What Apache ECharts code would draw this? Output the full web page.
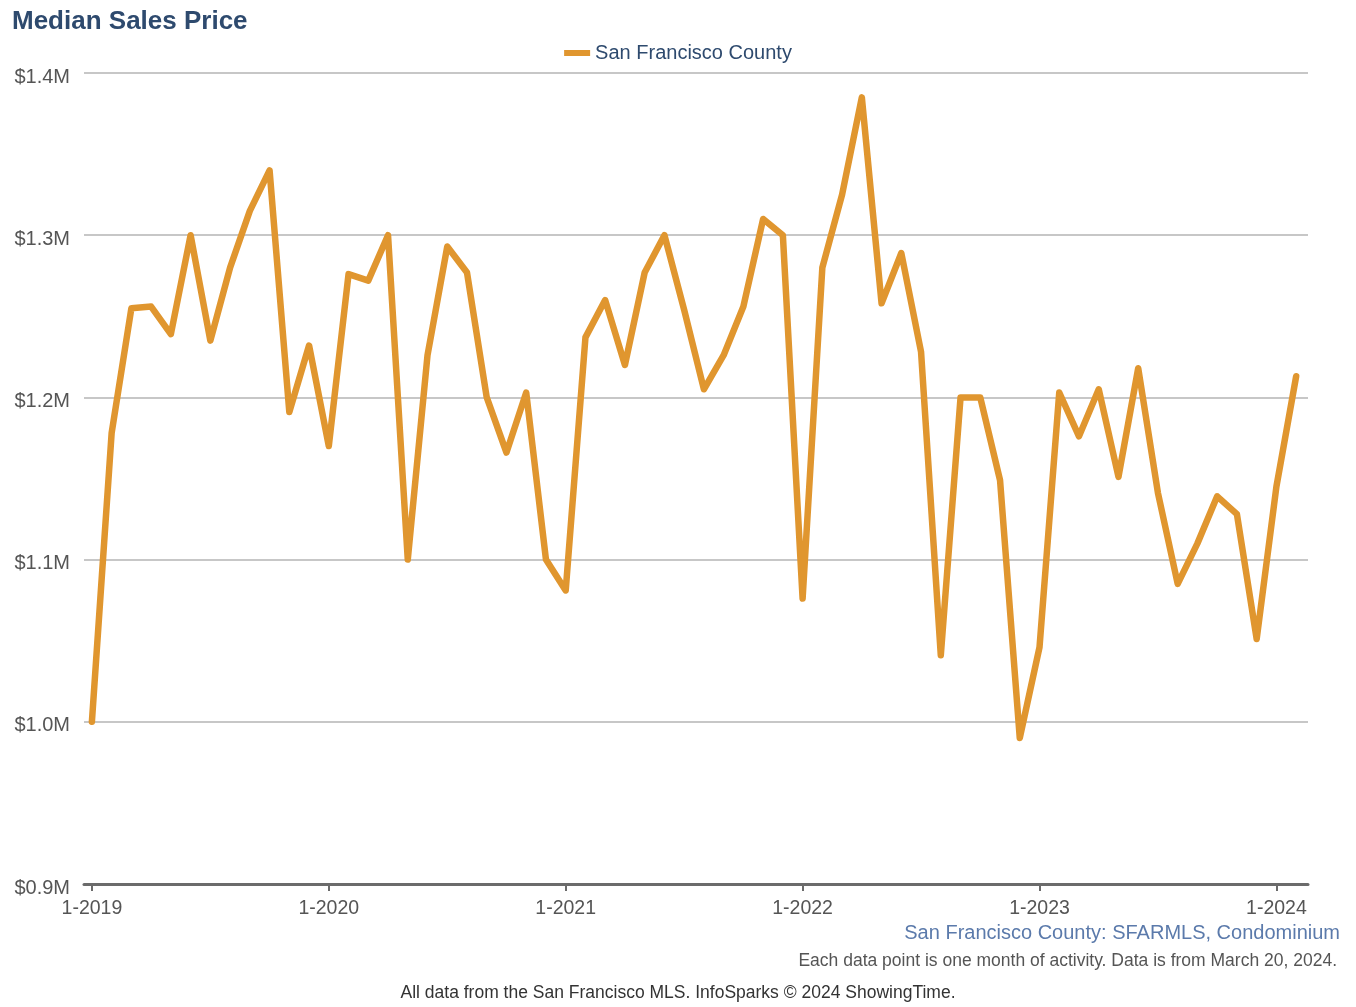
<!DOCTYPE html>
<html>
<head>
<meta charset="utf-8">
<script src="https://cdn.jsdelivr.net/npm/echarts@6/dist/echarts.min.js"></script>
<style>
html,body{margin:0;padding:0;background:#fff;}
#chart{width:1356px;height:1007px;}
</style>
</head>
<body>
<div id="chart"></div>
<script>
// Months 1-2019 .. 2-2024
const months = [
 '1-2019','2-2019','3-2019','4-2019','5-2019','6-2019','7-2019','8-2019','9-2019','10-2019','11-2019','12-2019',
 '1-2020','2-2020','3-2020','4-2020','5-2020','6-2020','7-2020','8-2020','9-2020','10-2020','11-2020','12-2020',
 '1-2021','2-2021','3-2021','4-2021','5-2021','6-2021','7-2021','8-2021','9-2021','10-2021','11-2021','12-2021',
 '1-2022','2-2022','3-2022','4-2022','5-2022','6-2022','7-2022','8-2022','9-2022','10-2022','11-2022','12-2022',
 '1-2023','2-2023','3-2023','4-2023','5-2023','6-2023','7-2023','8-2023','9-2023','10-2023','11-2023','12-2023',
 '1-2024','2-2024'
];
// Median sales price, in $K
const prices = [
 1000,1178,1255,1256,1239,1300,1235,1280,1315,1340,1191,1232,
 1170,1276,1272,1300,1100,1226,1293,1277,1200,1166,1203,1100,
 1081,1237,1260,1220,1277,1300,1254,1205,1226,1256,1310,1300,
 1076,1280,1325,1385,1258,1289,1228,1041,1200,1200,1149,990,
 1046,1203,1176,1205,1151,1218,1141,1085,1110,1139,1128,1051,
 1145,1213
];
const tickLabels = ['1-2019','1-2020','1-2021','1-2022','1-2023','1-2024'];
const yTicks = [900,1000,1100,1200,1300,1400];

const tickIdx = tickLabels.map(l => months.indexOf(l));
const seriesData = prices.map((v,i) => [i, v]);

const chart = echarts.init(document.getElementById('chart'), null, {renderer:'canvas'});
const FONT = '"Liberation Sans", Arial, sans-serif';
chart.setOption({
  animation:false,
  backgroundColor:'#fff',
  title:{
    text:'Median Sales Price',
    left:7, top:4,
    textStyle:{fontFamily:FONT, fontSize:26, fontWeight:'bold', color:'#2e4a6e'}
  },
  legend:{
    top:38, left:'center',
    itemWidth:26, itemHeight:6, itemGap:9,
    icon:'rect',
    textStyle:{fontFamily:FONT, fontSize:20, color:'#2e4a6e'},
    data:['San Francisco County']
  },
  grid:{left:84, right:48, top:73, bottom:123, containLabel:false},
  xAxis:{
    type:'value',
    min:-0.4, max:61.6,
    splitLine:{show:false},
    axisLine:{show:true, lineStyle:{color:'#6b6b6b', width:3}},
    axisTick:{show:true, customValues:tickIdx, length:7, lineStyle:{color:'#6b6b6b', width:2}},
    axisLabel:{
      customValues:tickIdx,
      formatter:v => months[Math.round(v)],
      fontFamily:FONT, fontSize:19.5, color:'#555', margin:15
    }
  },
  yAxis:{
    type:'value',
    min:900, max:1400, interval:100,
    axisLine:{show:false},
    axisTick:{show:false},
    splitLine:{show:true, lineStyle:{color:'#b4b4b4', width:1.5}},
    axisLabel:{
      formatter:v => '{a|$' + (v/1000).toFixed(1) + 'M}',
      margin:14,
      rich:{a:{fontFamily:FONT, fontSize:20, color:'#555', padding:[8,0,0,0]}}
    }
  },
  series:[{
    name:'San Francisco County',
    type:'line',
    data:seriesData,
    showSymbol:false,
    symbol:'none',
    lineStyle:{color:'#e0962f', width:6.5, join:'round', cap:'round'},
    itemStyle:{color:'#e0962f'}
  }],
  graphic:[
    {type:'text', right:16, top:923, style:{text:'San Francisco County: SFARMLS, Condominium', font:'20px '+FONT, fill:'#5b7aab', textAlign:'right'}},
    {type:'text', right:19, top:952, style:{text:'Each data point is one month of activity. Data is from March 20, 2024.', font:'17.5px '+FONT, fill:'#555', textAlign:'right'}},
    {type:'text', left:'center', top:984, style:{text:'All data from the San Francisco MLS. InfoSparks \u00a9 2024 ShowingTime.', font:'17.5px '+FONT, fill:'#333'}}
  ]
});
</script>
</body>
</html>
